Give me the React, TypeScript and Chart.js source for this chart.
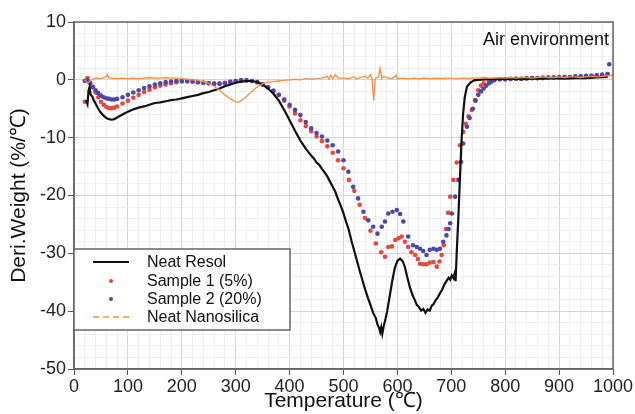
import React, { useEffect, useRef } from "react";
import { Chart, registerables } from "chart.js";

Chart.register(...registerables);

const FONT = "'Liberation Sans', Arial, Helvetica, sans-serif";

const seriesLabels = ["Neat Resol", "Sample 1 (5%)", "Sample 2 (20%)", "Neat Nanosilica"];
const annotationText = "Air environment";
const xTitle = "Temperature (℃)";
const yTitle = "Deri.Weight (%/℃)";

// Neat Resol (black continuous)
const resolT = [22, 25, 27, 29, 31, 34, 37, 40, 45, 50, 55, 60, 65, 70, 75, 80, 90, 100, 110, 120, 130, 140, 150, 160, 170, 180, 190, 200, 210, 220, 230, 240, 250, 260, 270, 280, 290, 300, 310, 320, 330, 340, 350, 360, 370, 380, 390, 400, 410, 420, 430, 440, 445, 450, 455, 460, 465, 470, 475, 480, 485, 490, 495, 500, 505, 510, 515, 520, 525, 530, 535, 540, 545, 550, 555, 560, 563, 566, 568, 570, 572, 575, 578, 581, 585, 590, 595, 600, 605, 610, 614, 618, 623, 628, 632, 636, 640, 644, 648, 652, 656, 660, 664, 667, 671, 675, 679, 683, 687, 691, 695, 698, 701, 704, 706, 708, 710, 713, 716, 719, 722, 725, 729, 735, 742, 750, 770, 790, 810, 830, 850, 870, 890, 910, 930, 950, 970, 990];
const resolY = [-3.5, -4.2, -1.8, -1.2, -2.6, -2.9, -3.6, -4.1, -5.0, -5.7, -6.2, -6.6, -6.8, -6.9, -6.8, -6.5, -6.0, -5.5, -5.1, -4.8, -4.6, -4.3, -4.0, -3.9, -3.7, -3.5, -3.4, -3.2, -3.0, -2.8, -2.6, -2.3, -2.1, -1.8, -1.5, -1.1, -0.8, -0.5, -0.3, -0.2, -0.2, -0.4, -0.8, -1.5, -2.4, -3.6, -5.2, -7.0, -8.8, -10.5, -11.9, -13.1, -13.6, -14.3, -14.7, -15.4, -16.0, -16.7, -17.6, -18.5, -19.4, -20.7, -21.8, -23.1, -24.6, -26.0, -27.9, -29.6, -31.3, -33.0, -34.6, -36.2, -37.6, -38.9, -40.3, -41.2, -42.3, -42.9, -43.6, -42.8, -43.9, -42.4, -41.3, -40.0, -37.8, -35.0, -32.6, -31.3, -30.9, -31.4, -32.4, -34.0, -35.8, -37.2, -38.0, -38.9, -39.3, -39.9, -39.6, -40.3, -39.7, -39.9, -39.0, -38.8, -38.1, -37.6, -36.9, -36.3, -35.4, -34.8, -34.2, -34.6, -33.8, -34.3, -33.6, -34.8, -30.0, -24.0, -17.0, -10.5, -5.8, -3.0, -1.2, -0.5, -0.1, 0.0, 0.1, 0.1, 0.2, 0.1, 0.2, 0.2, 0.3, 0.2, 0.3, 0.3, 0.4, 0.5];

// Sample 1 (5%) red markers
const s1T = [20, 25, 30, 35, 40, 45, 50, 55, 60, 65, 70, 75, 80, 90, 100, 110, 120, 130, 140, 150, 160, 170, 180, 190, 200, 210, 220, 230, 240, 250, 260, 270, 280, 290, 300, 310, 320, 330, 340, 350, 360, 370, 380, 390, 400, 410, 420, 430, 440, 450, 460, 470, 480, 490, 500, 510, 520, 530, 540, 550, 560, 570, 577, 583, 590, 596, 602, 608, 614, 620, 626, 633, 638, 642, 648, 654, 660, 667, 673, 678, 682, 686, 690, 694, 698, 704, 710, 716, 722, 727, 732, 738, 744, 750, 755, 760, 770, 780, 790, 800, 810, 820, 830, 840, 850, 860, 870, 880, 890, 900, 910, 920, 930, 940, 950, 960, 970, 980, 990];
const s1Y = [-3.8, 0.3, -0.5, -1.3, -2.2, -3.0, -3.8, -4.3, -4.7, -4.9, -4.9, -4.8, -4.6, -4.1, -3.6, -3.1, -2.6, -2.1, -1.7, -1.3, -1.0, -0.8, -0.6, -0.4, -0.3, -0.3, -0.3, -0.4, -0.5, -0.6, -0.6, -0.6, -0.5, -0.3, -0.2, -0.1, -0.1, -0.2, -0.4, -0.8, -1.3, -1.9, -2.6, -3.6, -4.6, -5.8, -7.0, -8.0, -8.9, -9.8, -10.6, -11.5, -12.6, -13.9, -15.3, -17.3, -19.2, -21.6, -23.9, -26.1, -28.3, -29.8, -30.6, -28.9, -28.8, -27.7, -27.4, -27.1, -28.0, -28.9, -29.8, -30.3, -31.0, -31.8, -31.9, -31.9, -31.6, -31.5, -32.3, -31.4, -30.3, -28.6, -25.8, -23.0, -20.2, -17.3, -14.3, -11.3, -9.0, -7.6, -6.3, -5.2, -3.5, -1.8, -1.0, -0.6, -0.1, 0.0, 0.1, 0.1, 0.1, 0.2, 0.2, 0.2, 0.3, 0.3, 0.3, 0.4, 0.4, 0.4, 0.5, 0.5, 0.5, 0.6, 0.6, 0.7, 0.8, 0.8, 1.0];

// Sample 2 (20%) blue markers
const s2T = [20, 25, 30, 35, 40, 45, 50, 55, 60, 65, 70, 75, 80, 90, 100, 110, 120, 130, 140, 150, 160, 170, 180, 190, 200, 210, 220, 230, 240, 250, 260, 270, 280, 290, 300, 310, 320, 330, 340, 350, 360, 370, 380, 390, 400, 410, 420, 430, 440, 450, 460, 470, 480, 490, 500, 509, 518, 527, 537, 546, 555, 563, 571, 577, 583, 591, 599, 605, 611, 620, 629, 636, 642, 648, 654, 660, 667, 673, 679, 685, 691, 695, 698, 701, 707, 713, 718, 722, 729, 734, 740, 745, 750, 755, 760, 765, 770, 775, 780, 790, 800, 810, 820, 830, 840, 850, 860, 870, 880, 890, 900, 910, 920, 930, 940, 950, 960, 970, 980, 990, 993];
const s2Y = [-0.2, -0.1, -0.6, -1.2, -1.8, -2.3, -2.7, -3.0, -3.2, -3.3, -3.4, -3.4, -3.3, -3.0, -2.6, -2.2, -1.8, -1.4, -1.1, -0.8, -0.6, -0.4, -0.3, -0.2, -0.2, -0.2, -0.3, -0.4, -0.5, -0.6, -0.7, -0.7, -0.6, -0.4, -0.2, -0.1, -0.1, -0.2, -0.4, -0.8, -1.3, -1.9, -2.6, -3.4, -4.3, -5.2, -6.1, -7.3, -8.4, -9.2, -9.8, -10.5, -11.3, -12.4, -13.9, -15.9, -18.5, -20.5, -22.8, -24.3, -25.4, -26.6, -25.4, -24.5, -23.1, -22.8, -22.5, -23.2, -24.5, -27.1, -28.6, -28.9, -29.2, -29.6, -30.3, -29.4, -29.2, -29.4, -29.2, -28.0, -26.9, -25.8, -24.8, -23.1, -20.2, -17.3, -14.2, -11.0, -8.1, -6.6, -5.0, -3.6, -2.6, -2.0, -1.5, -1.0, -0.6, -0.3, 0.0, 0.1, 0.1, 0.2, 0.2, 0.2, 0.3, 0.3, 0.3, 0.4, 0.4, 0.4, 0.5, 0.5, 0.5, 0.6, 0.6, 0.7, 0.7, 0.8, 0.9, 1.0, 2.7];

// Neat Nanosilica (orange noisy line)
const silT = [20, 25, 30, 35, 40, 50, 60, 62, 65, 70, 80, 90, 100, 110, 120, 130, 140, 150, 160, 170, 180, 190, 200, 210, 220, 230, 240, 250, 260, 270, 280, 290, 300, 305, 310, 320, 330, 340, 350, 360, 370, 380, 390, 400, 410, 420, 430, 440, 450, 460, 470, 473, 476, 480, 485, 490, 500, 510, 520, 525, 530, 540, 545, 550, 553, 556, 559, 565, 568, 571, 575, 580, 590, 598, 600, 610, 620, 630, 640, 650, 660, 670, 680, 690, 700, 710, 720, 730, 740, 750, 760, 770, 780, 790, 800, 810, 820, 830, 840, 850, 860, 870, 880, 890, 900, 910, 920, 930, 940, 950, 960, 970, 980, 990, 1000];
const silY = [0.0, -0.6, -0.2, 0.1, 0.3, 0.2, 0.5, 0.9, 0.3, 0.3, 0.2, 0.3, 0.2, 0.3, 0.2, 0.3, 0.4, 0.3, 0.3, 0.4, 0.3, 0.3, 0.2, 0.1, 0.0, -0.1, -0.3, -0.6, -1.1, -1.8, -2.6, -3.3, -3.8, -3.9, -3.6, -2.9, -2.0, -1.2, -0.7, -0.4, -0.3, -0.2, -0.1, 0.0, 0.1, 0.0, 0.2, 0.1, 0.2, 0.3, 0.6, 0.1, 0.8, 0.2, 0.9, 0.3, 0.3, 0.2, 0.5, 0.1, 0.4, 0.6, 0.3, 0.9, 0.2, -3.6, 0.3, 0.5, 2.0, 0.2, 0.6, 0.4, 0.2, 0.8, 0.2, 0.3, 0.2, 0.3, 0.2, 0.3, 0.2, 0.3, 0.2, 0.3, 0.3, 0.2, 0.3, 0.2, 0.3, 0.3, 0.4, 0.3, 0.3, 0.4, 0.3, 0.4, 0.3, 0.4, 0.4, 0.3, 0.4, 0.5, 0.4, 0.4, 0.5, 0.4, 0.5, 0.5, 0.4, 0.5, 0.6, 0.5, 0.6, 0.7, 0.8];

const xMajor = [0, 100, 200, 300, 400, 500, 600, 700, 800, 900, 1000];
const yMajor = [10, 0, -10, -20, -30, -40, -50];

const COLORS = {
  resol: "#111111",
  s1: "#e8473f",
  s2: "#4a48a8",
  sil: "#f0904a",
};

const zip = (t: number[], v: number[]) => t.map((x, i) => ({ x, y: v[i] }));

const overlayPlugin = {
  id: "overlay",
  afterDatasetsDraw(chart: any) {
    const { ctx, chartArea } = chart;
    ctx.save();
    ctx.strokeStyle = "#666";
    ctx.lineWidth = 1.5;
    ctx.strokeRect(chartArea.left, chartArea.top, chartArea.right - chartArea.left, chartArea.bottom - chartArea.top);
    ctx.fillStyle = "#111";
    ctx.font = `18px ${FONT}`;
    ctx.textAlign = "right";
    ctx.textBaseline = "middle";
    ctx.fillText(annotationText, chartArea.right - 4, chartArea.top + 18);
    const bx = chartArea.left;
    const by = 249;
    const bw = 216;
    const bh = 81;
    ctx.fillStyle = "#fff";
    ctx.fillRect(bx, by, bw, bh);
    ctx.strokeStyle = "#666";
    ctx.lineWidth = 1.5;
    ctx.strokeRect(bx, by, bw, bh);
    const rows = [262, 281, 299, 317];
    const ds = chart.data.datasets;
    ctx.font = `16px ${FONT}`;
    ctx.textAlign = "left";
    rows.forEach((ry, i) => {
      const d = ds[i];
      if (i === 0 || i === 3) {
        ctx.strokeStyle = d.borderColor;
        ctx.lineWidth = i === 0 ? 1.8 : 1.6;
        ctx.setLineDash(i === 3 ? [6, 4] : []);
        ctx.beginPath();
        ctx.moveTo(bx + 19, ry);
        ctx.lineTo(bx + 55, ry);
        ctx.stroke();
        ctx.setLineDash([]);
      } else {
        ctx.fillStyle = d.pointBackgroundColor;
        ctx.beginPath();
        ctx.arc(bx + 37, ry, 2, 0, Math.PI * 2);
        ctx.fill();
      }
      ctx.fillStyle = "#111";
      ctx.fillText(d.label, bx + 73, ry + 1);
    });
    ctx.restore();
  },
};

export default function App() {
  const ref = useRef<HTMLCanvasElement | null>(null);
  useEffect(() => {
    if (!ref.current) return;
    const isMajorX = (v: number) => xMajor.includes(Math.round(v));
    const isMajorY = (v: number) => yMajor.includes(Math.round(v));
    const chart = new Chart(ref.current, {
      type: "scatter",
      data: {
        datasets: [
          {
            label: seriesLabels[0],
            data: zip(resolT, resolY),
            showLine: true,
            borderColor: COLORS.resol,
            backgroundColor: COLORS.resol,
            pointBackgroundColor: COLORS.resol,
            borderWidth: 2.2,
            pointRadius: 0,
            tension: 0,
            order: 1,
          },
          {
            label: seriesLabels[1],
            data: zip(s1T, s1Y),
            showLine: false,
            borderColor: COLORS.s1,
            backgroundColor: COLORS.s1,
            pointBackgroundColor: COLORS.s1,
            pointBorderWidth: 0,
            pointRadius: 2.3,
            order: 3,
          },
          {
            label: seriesLabels[2],
            data: zip(s2T, s2Y),
            showLine: false,
            borderColor: COLORS.s2,
            backgroundColor: COLORS.s2,
            pointBackgroundColor: COLORS.s2,
            pointBorderWidth: 0,
            pointRadius: 2.3,
            order: 2,
          },
          {
            label: seriesLabels[3],
            data: zip(silT, silY),
            showLine: true,
            borderColor: COLORS.sil,
            backgroundColor: COLORS.sil,
            pointBackgroundColor: COLORS.sil,
            borderWidth: 1.3,
            pointRadius: 0,
            tension: 0,
            order: 0,
          },
        ],
      },
      options: {
        responsive: false,
        animation: false,
        layout: { padding: { top: 22, right: 22, left: 0, bottom: 0 } },
        plugins: { legend: { display: false }, tooltip: { enabled: false } },
        scales: {
          x: {
            type: "linear",
            min: 0,
            max: 1000,
            afterFit: (s: any) => {
              s.height = 45;
            },
            ticks: {
              stepSize: 20,
              autoSkip: false,
              maxRotation: 0,
              padding: 1,
              color: "#222",
              font: { family: FONT, size: 18 },
              callback: (v: any) => (isMajorX(Number(v)) ? String(v) : ""),
            },
            grid: {
              color: (c: any) => (c.tick && isMajorX(c.tick.value) ? "#d6d6d6" : "#efefef"),
              tickColor: (c: any) => (c.tick && isMajorX(c.tick.value) ? "#555" : "rgba(0,0,0,0)"),
              tickLength: 6,
              lineWidth: 1,
            },
            border: { color: "#666", width: 1.5 },
            title: {
              display: true,
              text: xTitle,
              color: "#111",
              font: { family: FONT, size: 21 },
              padding: { top: 0, bottom: 0 },
            },
          },
          y: {
            type: "linear",
            min: -50,
            max: 10,
            afterFit: (s: any) => {
              s.width = 74;
            },
            ticks: {
              stepSize: 2,
              autoSkip: false,
              padding: 2,
              color: "#222",
              font: { family: FONT, size: 18 },
              callback: (v: any) => (isMajorY(Number(v)) ? String(v) : ""),
            },
            grid: {
              color: (c: any) => (c.tick && isMajorY(c.tick.value) ? "#d6d6d6" : "#efefef"),
              tickColor: (c: any) => (c.tick && isMajorY(c.tick.value) ? "#555" : "rgba(0,0,0,0)"),
              tickLength: 6,
              lineWidth: 1,
            },
            border: { color: "#666", width: 1.5 },
            title: {
              display: true,
              text: yTitle,
              color: "#111",
              font: { family: FONT, size: 21 },
              padding: { top: 7, bottom: 0 },
            },
          },
        },
      },
      plugins: [overlayPlugin],
    });
    return () => chart.destroy();
  }, []);
  return (
    <div style={{ position: "fixed", left: 0, top: 0, width: 635, height: 414, background: "#fff" }}>
      <canvas ref={ref} width={635} height={414} style={{ width: 635, height: 414, display: "block" }} />
    </div>
  );
}
